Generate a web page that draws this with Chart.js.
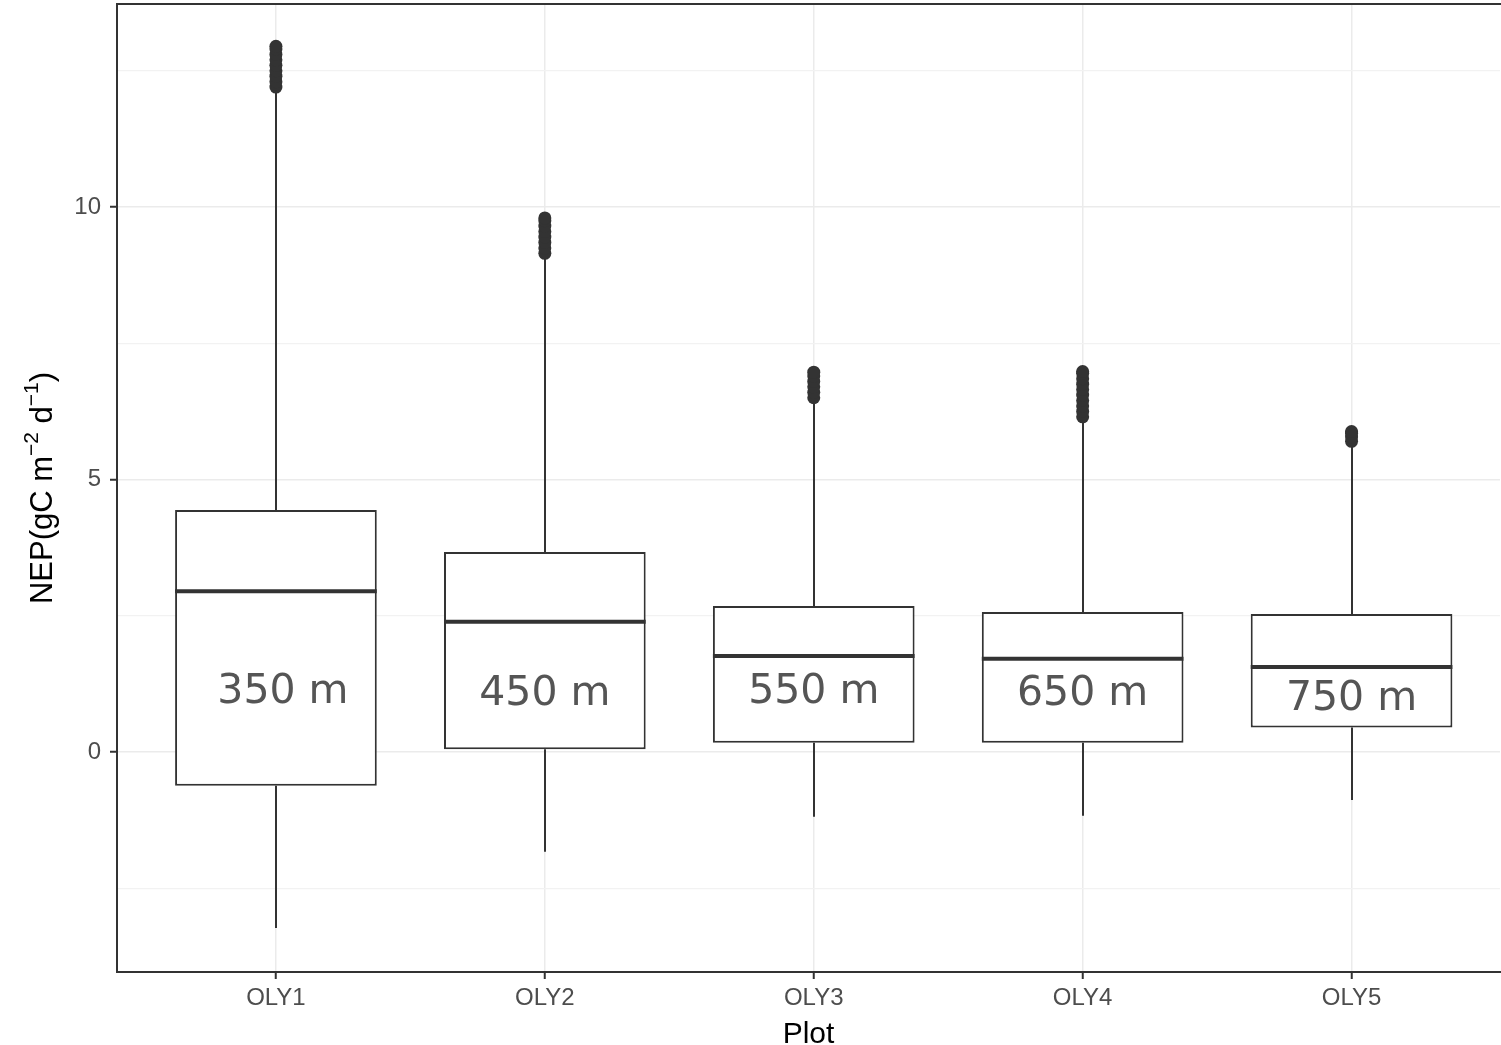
<!DOCTYPE html>
<html>
<head>
<meta charset="utf-8">
<script src="https://cdn.jsdelivr.net/npm/chart.js@4.4.1/dist/chart.umd.min.js"></script>
<style>
  html, body { margin: 0; padding: 0; background: #fff; overflow: hidden; }
  #wrap { width: 1501px; height: 1045px; }
</style>
</head>
<body>
<div id="wrap"><canvas id="chart"></canvas></div>
<script>
// ---- data ----
const plots = ['OLY1', 'OLY2', 'OLY3', 'OLY4', 'OLY5'];
const elevations = ['350 m', '450 m', '550 m', '650 m', '750 m'];
const whiskerLow = [-3.23, -1.83, -1.19, -1.17, -0.88];
const q1 = [-0.62, 0.05, 0.17, 0.17, 0.45];
const median = [2.95, 2.39, 1.76, 1.71, 1.56];
const q3 = [4.44, 3.67, 2.68, 2.57, 2.53];
const whiskerHigh = [12.15, 9.08, 6.42, 6.12, 5.66];
const outliers = [
    [12.2, 12.3, 12.4, 12.5, 12.6, 12.7, 12.8, 12.9, 12.95],
    [9.15, 9.25, 9.35, 9.45, 9.55, 9.65, 9.75, 9.8],
    [6.5, 6.6, 6.7, 6.8, 6.9, 6.97],
    [6.15, 6.25, 6.35, 6.45, 6.55, 6.65, 6.75, 6.85, 6.95, 6.98],
    [5.7, 5.78, 5.85, 5.88]
];
const labelY = [1.09, 1.06, 1.09, 1.06, 0.96];
const yTicks = [-2.5, 0, 2.5, 5, 7.5, 10, 12.5];

const INK = '#333333';
const SANS = '"Liberation Sans", Arial, sans-serif';

// box bodies as floating bars on a numeric x axis
const boxData = plots.map((p, i) => ({ x: i + 1, y: [q1[i], q3[i]] }));
const outlierData = [];
outliers.forEach((vals, i) => vals.forEach(v => outlierData.push({ x: i + 1, y: v })));

// whiskers, medians, labels, y title and panel border
const boxExtras = {
    id: 'boxExtras',
    beforeDatasetsDraw(chart) {
        const { ctx, scales: { x, y } } = chart;
        ctx.save();
        ctx.strokeStyle = INK;
        ctx.lineWidth = 2;
        plots.forEach((p, i) => {
            const cx = Math.round(x.getPixelForValue(i + 1));
            ctx.beginPath();
            ctx.moveTo(cx, y.getPixelForValue(q3[i]));
            ctx.lineTo(cx, y.getPixelForValue(whiskerHigh[i]));
            ctx.moveTo(cx, y.getPixelForValue(q1[i]));
            ctx.lineTo(cx, y.getPixelForValue(whiskerLow[i]));
            ctx.stroke();
        });
        ctx.restore();
    },
    afterDatasetsDraw(chart) {
        const { ctx, scales: { x, y } } = chart;
        const meta = chart.getDatasetMeta(0);
        ctx.save();
        // medians
        ctx.strokeStyle = INK;
        ctx.lineWidth = 4;
        meta.data.forEach((bar, i) => {
            const half = bar.width / 2;
            const my = y.getPixelForValue(median[i]);
            ctx.beginPath();
            ctx.moveTo(bar.x - half, my);
            ctx.lineTo(bar.x + half, my);
            ctx.stroke();
        });
        // elevation labels
        ctx.fillStyle = '#555555';
        ctx.font = '41px "DejaVu Sans", sans-serif';
        ctx.textAlign = 'center';
        ctx.textBaseline = 'middle';
        elevations.forEach((t, i) => {
            ctx.fillText(t, x.getPixelForValue(i + 1) + (i === 0 ? 7 : 0), y.getPixelForValue(labelY[i]));
        });
        ctx.restore();
    },
    afterDraw(chart) {
        const { ctx, chartArea } = chart;
        ctx.save();
        // panel border (right edge falls outside the picture)
        ctx.strokeStyle = INK;
        ctx.lineWidth = 2;
        ctx.beginPath();
        ctx.moveTo(chartArea.right + 2, chartArea.top);
        ctx.lineTo(chartArea.left, chartArea.top);
        ctx.lineTo(chartArea.left, chartArea.bottom);
        ctx.lineTo(chartArea.right + 2, chartArea.bottom);
        ctx.stroke();

        // y axis title with superscripts
        const parts = [
            { t: 'NEP(gC m', sup: false },
            { t: '\u22122', sup: true },
            { t: ' d', sup: false },
            { t: '\u22121', sup: true },
            { t: ')', sup: false }
        ];
        const big = '31px ' + SANS;
        const small = '21px ' + SANS;
        let total = 0;
        parts.forEach(pt => { ctx.font = pt.sup ? small : big; total += ctx.measureText(pt.t).width; });
        ctx.translate(52, (chartArea.top + chartArea.bottom) / 2);
        ctx.rotate(-Math.PI / 2);
        ctx.fillStyle = '#000';
        ctx.textBaseline = 'alphabetic';
        ctx.textAlign = 'left';
        let px = -total / 2;
        parts.forEach(pt => {
            ctx.font = pt.sup ? small : big;
            ctx.fillText(pt.t, px, pt.sup ? -14 : 0);
            px += ctx.measureText(pt.t).width;
        });
        ctx.restore();
    }
};

new Chart(document.getElementById('chart'), {
    data: {
        datasets: [
            {
                type: 'bar',
                data: boxData,
                backgroundColor: '#ffffff',
                borderColor: INK,
                borderWidth: 2,
                borderSkipped: false,
                grouped: false,
                barPercentage: 0.75,
                categoryPercentage: 1.0,
                order: 2
            },
            {
                type: 'scatter',
                data: outlierData,
                pointRadius: 6.5,
                pointBackgroundColor: INK,
                pointBorderWidth: 0,
                order: 1
            }
        ]
    },
    plugins: [boxExtras],
    options: {
        responsive: true,
        maintainAspectRatio: false,
        animation: false,
        events: [],
        layout: { autoPadding: false, padding: { left: 0, top: 4, right: 1, bottom: 0 } },
        plugins: {
            legend: { display: false },
            tooltip: { enabled: false }
        },
        scales: {
            x: {
                type: 'linear',
                offset: false,
                min: 0.409,
                max: 5.552,
                afterBuildTicks: s => { s.ticks = plots.map((p, i) => ({ value: i + 1 })); },
                afterFit: s => {
                    s.height = 73;
                    s.paddingLeft = 0;
                    s.paddingRight = 0;
                },
                border: { display: false },
                grid: {
                    offset: false,
                    color: '#EBEBEB',
                    lineWidth: 1.5,
                    tickColor: INK,
                    tickLength: 7,
                    tickWidth: 2
                },
                ticks: {
                    color: '#4D4D4D',
                    font: { size: 24, family: SANS },
                    padding: 5,
                    maxRotation: 0,
                    autoSkip: false,
                    callback: v => plots[v - 1] || ''
                },
                title: {
                    display: true,
                    text: 'Plot',
                    color: '#000',
                    font: { size: 30, family: SANS },
                    padding: { top: 0, bottom: -8 }
                }
            },
            y: {
                type: 'linear',
                min: -4.037,
                max: 13.725,
                afterBuildTicks: s => { s.ticks = yTicks.map(v => ({ value: v })); },
                afterFit: s => {
                    s.width = 117;
                    s.paddingTop = 0;
                    s.paddingBottom = 0;
                },
                border: { display: false },
                grid: {
                    color: ctx => (ctx.tick && ctx.tick.value % 5 === 0) ? '#EBEBEB' : '#F2F2F2',
                    lineWidth: ctx => (ctx.tick && ctx.tick.value % 5 === 0) ? 1.5 : 1.2,
                    tickColor: ctx => (ctx.tick && ctx.tick.value % 5 === 0) ? INK : 'rgba(0,0,0,0)',
                    tickLength: 7,
                    tickWidth: 2
                },
                ticks: {
                    color: '#4D4D4D',
                    font: { size: 24, family: SANS },
                    padding: 9,
                    autoSkip: false,
                    callback: v => (v % 5 === 0 ? String(v) : '')
                }
            }
        }
    }
});
</script>
</body>
</html>
